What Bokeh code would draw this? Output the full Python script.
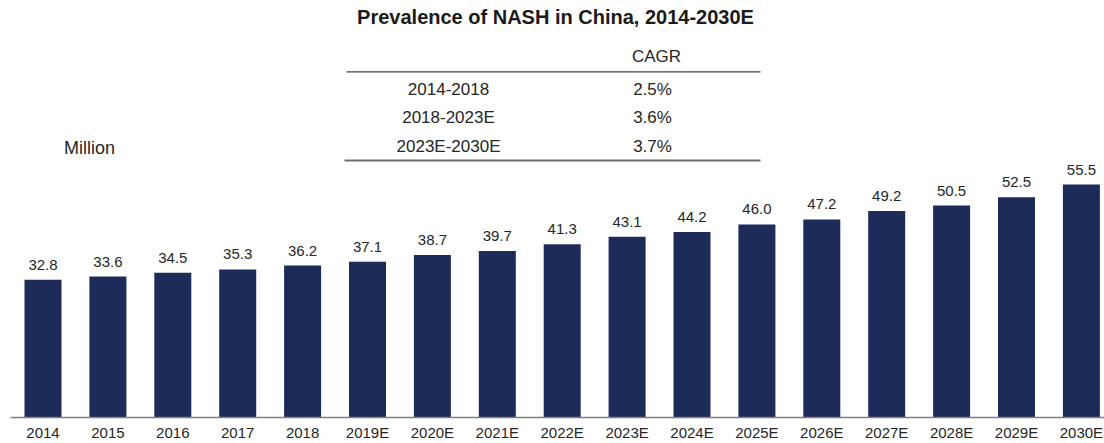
from bokeh.plotting import figure
from bokeh.models import Range1d, FixedTicker
from bokeh.embed import file_html
from bokeh.resources import INLINE
from bokeh.core.properties import value

# ---------------- data ----------------
years = ["2014", "2015", "2016", "2017", "2018", "2019E", "2020E", "2021E", "2022E",
         "2023E", "2024E", "2025E", "2026E", "2027E", "2028E", "2029E", "2030E"]
prevalence = [32.8, 33.6, 34.5, 35.3, 36.2, 37.1, 38.7, 39.7, 41.3,
              43.1, 44.2, 46.0, 47.2, 49.2, 50.5, 52.5, 55.5]
cagr_header = "CAGR"
cagr_periods = ["2014-2018", "2018-2023E", "2023E-2030E"]
cagr_values = ["2.5%", "3.6%", "3.7%"]
title_text = "Prevalence of NASH in China, 2014-2030E"
unit_text = "Million"

# ---------------- layout ----------------
W, H = 1104, 443
BORDER_L, BORDER_B = 10, 24
FRAME_W = W - BORDER_L
FRAME_H = H - BORDER_B
SX = 64.9                                    # px per category
X0 = -32.5 / SX
X1 = X0 + FRAME_W / SX
BASE = FRAME_H                               # canvas y of baseline
SY = (BASE - 185) / 55.5
Y1 = FRAME_H / SY


def xd(px):
    return X0 + (px - BORDER_L) / SX


def yd(py):
    return (BASE - py) / SY


FONT = "Liberation Sans"
TXT = "#262626"
BAR = "#1d2b59"

p = figure(width=W, height=H, output_backend="svg", toolbar_location=None,
           x_range=Range1d(X0, X1), y_range=Range1d(0, Y1),
           y_axis_location=None,
           min_border_left=BORDER_L, min_border_right=0,
           min_border_top=0, min_border_bottom=BORDER_B)
p.outline_line_color = None
p.xgrid.visible = False
p.ygrid.visible = False
p.background_fill_color = "white"
p.border_fill_color = "white"

idx = list(range(len(years)))
p.vbar(x=idx, top=prevalence, bottom=0, width=37 / SX,
       fill_color=BAR, line_color=None)

p.text(x=idx, y=prevalence, text=[f"{v:.1f}" for v in prevalence],
       text_align="center", text_baseline="middle", y_offset=-15,
       text_font=value(FONT), text_font_size="15px", text_color=TXT)

ax = p.xaxis[0]
ax.ticker = FixedTicker(ticks=idx)
ax.major_label_overrides = {i: y for i, y in zip(idx, years)}
ax.major_tick_line_color = None
ax.minor_tick_line_color = None
ax.major_tick_out = 0
ax.major_label_standoff = 6
ax.axis_line_color = "#7f7f7f"
ax.axis_line_width = 1.5
ax.major_label_text_font = FONT
ax.major_label_text_font_size = "15px"
ax.major_label_text_color = TXT

# title
p.text(x=[xd(555)], y=[yd(16.7)], text=[title_text], text_align="center",
       text_baseline="middle", text_font=value(FONT), text_font_style="bold",
       text_font_size="20px", text_color="#1a1a1a")

# unit
p.text(x=[xd(89)], y=[yd(148.2)], text=[unit_text], text_align="center",
       text_baseline="middle", text_font=value(FONT),
       text_font_size="18px", text_color=TXT)

# CAGR table
p.text(x=[xd(656)], y=[yd(56.2)], text=[cagr_header], text_align="center",
       text_baseline="middle", text_font=value(FONT),
       text_font_size="17px", text_color=TXT)
row_mid = [89.2, 117.5, 146.2]
p.text(x=[xd(448)] * 3, y=[yd(r) for r in row_mid], text=cagr_periods,
       text_align="center", text_baseline="middle", text_font=value(FONT),
       text_font_size="17px", text_color=TXT)
p.text(x=[xd(652)] * 3, y=[yd(r) for r in row_mid], text=cagr_values,
       text_align="center", text_baseline="middle", text_font=value(FONT),
       text_font_size="17px", text_color=TXT)
p.segment(x0=[xd(346)], x1=[xd(760)], y0=[yd(71.7)], y1=[yd(71.7)],
          line_color="#404040", line_width=1.3)
p.segment(x0=[xd(344)], x1=[xd(760)], y0=[yd(160.7)], y1=[yd(160.7)],
          line_color="#6b6b6b", line_width=2)

open("out.html", "w").write(file_html(p, INLINE))
